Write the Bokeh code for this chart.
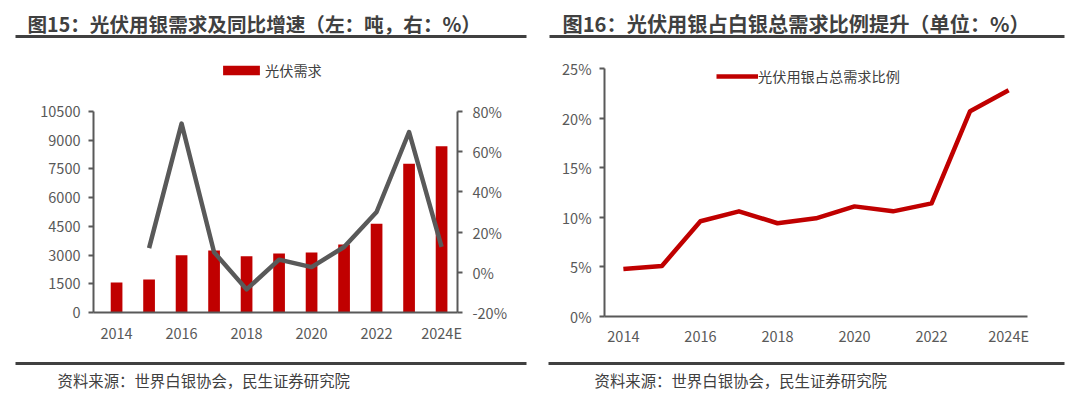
from bokeh.plotting import figure
from bokeh.models import (Range1d, LinearAxis, FixedTicker, NumeralTickFormatter,
                          PrintfTickFormatter, Legend, LegendItem)
from bokeh.layouts import row, column
from bokeh.embed import file_html
from bokeh.resources import INLINE
from bokeh.core.properties import value

# ---------------- data ----------------
years = ["2014", "2015", "2016", "2017", "2018", "2019", "2020", "2021", "2022", "2023", "2024E"]
pv_demand = [1570, 1720, 2990, 3240, 2940, 3080, 3130, 3550, 4630, 7770, 8690]      # tonnes
yoy_growth = [None, 12.0, 74.0, 10.0, -8.5, 6.3, 2.6, 12.6, 30.0, 69.8, 12.6]      # %
pv_share = [4.8, 5.1, 9.6, 10.6, 9.4, 9.9, 11.1, 10.6, 11.4, 20.7, 22.8]            # %
left_ticks = [0, 1500, 3000, 4500, 6000, 7500, 9000, 10500]
pct_ticks = [-20, 0, 20, 40, 60, 80]
share_ticks = [0, 5, 10, 15, 20, 25]

title1 = "图15：光伏用银需求及同比增速（左：吨，右：%）"
title2 = "图16：光伏用银占白银总需求比例提升（单位：%）"
source = "资料来源：世界白银协会，民生证券研究院"
legend1 = "光伏需求"
legend2 = "光伏用银占总需求比例"

FONT = "Noto Sans CJK SC"
AX = "#595959"
TXT = "#404040"
RED = "#C00000"

idx = list(range(len(years)))
x_ticks = idx[::2]
x_labels = {i: years[i] for i in x_ticks}


def style_axis(ax):
    ax.axis_line_color = AX
    ax.axis_line_width = 2
    ax.major_tick_line_color = AX
    ax.major_tick_line_width = 2
    ax.minor_tick_line_color = None
    ax.major_label_text_font = FONT
    ax.major_label_text_font_size = "14.5px"
    ax.major_label_text_color = AX


def deco(width, height, text, tx, ty, lx0, lx1, ly, size, bold):
    f = figure(width=width, height=height, x_range=Range1d(0, width), y_range=Range1d(height, 0),
               output_backend="svg", toolbar_location=None, min_border=0,
               min_border_left=0, min_border_right=0, min_border_top=0, min_border_bottom=0,
               x_axis_location=None, y_axis_location=None, outline_line_color=None)
    f.grid.visible = False
    f.segment(x0=[lx0], y0=[ly], x1=[lx1], y1=[ly], line_color=TXT, line_width=3)
    f.text(x=[tx], y=[ty], text=[text], text_font=value(FONT), text_font_size=size,
           text_font_style="bold" if bold else "normal", text_color=TXT,
           text_baseline="middle", text_align="left")
    return f


def base_legend(items, loc, gw, gh, standoff):
    lg = Legend(items=items, location=loc, orientation="horizontal")
    lg.background_fill_alpha = 0
    lg.border_line_color = None
    lg.padding = 0
    lg.margin = 0
    lg.spacing = 0
    lg.glyph_width = gw
    lg.glyph_height = gh
    lg.label_standoff = standoff
    lg.label_height = 20
    lg.label_text_font = FONT
    lg.label_text_font_size = "14.2px"
    lg.label_text_color = TXT
    return lg


TOP_B, BOT_B = 10, 38   # shared borders (rows align them)

# ---------------- left chart ----------------
# frame extends above the top tick to host the legend; axis lines stop at the last tick
L_H = 302
L_FRAME_H, L_AXIS_H = L_H - TOP_B - BOT_B, 201
p1 = figure(width=540, height=L_H, x_range=Range1d(-0.71, 10.49),
            y_range=Range1d(0, left_ticks[-1] * L_FRAME_H / L_AXIS_H),
            output_backend="svg", toolbar_location=None,
            min_border_left=93, min_border_right=83, min_border_top=TOP_B, min_border_bottom=BOT_B)
p1.grid.visible = False
p1.outline_line_color = None
p1.extra_y_ranges = {"pct": Range1d(pct_ticks[0],
                                    pct_ticks[0] + (pct_ticks[-1] - pct_ticks[0]) * L_FRAME_H / L_AXIS_H)}
p1.add_layout(LinearAxis(y_range_name="pct"), "right")

bars = p1.vbar(x=idx, top=pv_demand, width=0.36, fill_color=RED, line_color=None)
p1.line(x=idx[1:], y=yoy_growth[1:], y_range_name="pct", line_color=AX, line_width=4.5,
        line_join="round")

for ax in p1.xaxis:
    style_axis(ax)
    ax.ticker = FixedTicker(ticks=x_ticks)
    ax.major_label_overrides = x_labels
    ax.major_tick_out = 0
    ax.major_tick_in = 0
    ax.major_label_standoff = 9
p1.yaxis[0].ticker = FixedTicker(ticks=left_ticks)
p1.yaxis[0].formatter = NumeralTickFormatter(format="0")
p1.yaxis[0].bounds = (left_ticks[0], left_ticks[-1])
p1.yaxis[1].ticker = FixedTicker(ticks=pct_ticks)
p1.yaxis[1].formatter = PrintfTickFormatter(format="%d%%")
p1.yaxis[1].bounds = (pct_ticks[0], pct_ticks[-1])
for ax in p1.yaxis:
    style_axis(ax)
    ax.major_tick_out = 5
    ax.major_tick_in = 0
p1.yaxis[0].major_label_standoff = 8
p1.yaxis[1].major_label_standoff = 10

p1.add_layout(base_legend([LegendItem(label=legend1, renderers=[bars])], (125, 232), 46, 12, 1))

# ---------------- right chart ----------------
R_H = 306
R_FRAME_H, R_AXIS_H = R_H - TOP_B - BOT_B, 248
p2 = figure(width=540, height=R_H, x_range=Range1d(-0.49, 10.49),
            y_range=Range1d(0, share_ticks[-1] * R_FRAME_H / R_AXIS_H),
            output_backend="svg", toolbar_location=None,
            min_border_left=64, min_border_right=53, min_border_top=TOP_B, min_border_bottom=BOT_B)
p2.grid.visible = False
p2.outline_line_color = None
ln = p2.line(x=idx, y=pv_share, line_color=RED, line_width=4.5, line_join="round")

for ax in p2.xaxis:
    style_axis(ax)
    ax.ticker = FixedTicker(ticks=x_ticks)
    ax.major_label_overrides = x_labels
    ax.major_tick_out = 0
    ax.major_tick_in = 0
    ax.major_label_standoff = 8
for ax in p2.yaxis:
    style_axis(ax)
    ax.ticker = FixedTicker(ticks=share_ticks)
    ax.formatter = PrintfTickFormatter(format="%d%%")
    ax.bounds = (share_ticks[0], share_ticks[-1])
    ax.major_tick_out = 5
    ax.major_tick_in = 0
    ax.major_label_standoff = 8

p2.add_layout(base_legend([LegendItem(label=legend2, renderers=[ln])], (112, 230), 42, 14, 0))

# ---------------- decorations ----------------
t1 = deco(540, 48, title1, 27, 23, 15, 526, 36, "19.6px", True)
t2 = deco(540, 48, title2, 22, 23, 9, 524, 36, "20.2px", True)
s1 = deco(540, 40, source, 57, 25, 15, 526, 9, "15.4px", False)
s2 = deco(540, 40, source, 54, 25, 8, 524, 9, "15.4px", False)

layout = column(row(t1, t2), row(p1, p2), row(s1, s2))

with open("out.html", "w") as fh:
    fh.write(file_html(layout, INLINE))
